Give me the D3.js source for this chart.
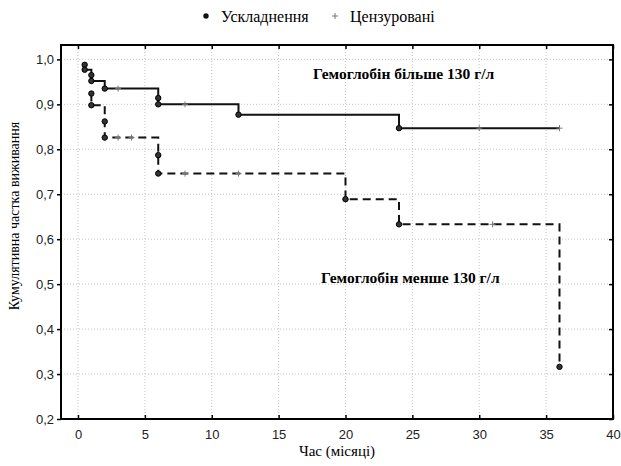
<!DOCTYPE html>
<html>
<head>
<meta charset="utf-8">
<script src="https://cdn.jsdelivr.net/npm/d3@7"></script>
<style>
  body { margin: 0; background: #fff; }
  svg { display: block; }
</style>
</head>
<body>
<div id="chart"></div>
<script>
// Hb > 130 g/l (solid)
var hiTime = [0.5, 0.5, 1, 1, 2, 6, 6, 12, 24];
var hiSurv = [0.988, 0.977, 0.965, 0.952, 0.935, 0.914, 0.900, 0.877, 0.847];
var hiCensored = [3, 8, 30, 36];
// Hb < 130 g/l (dashed)
var loTime = [1, 1, 2, 2, 6, 6, 20, 24, 36];
var loSurv = [0.924, 0.898, 0.862, 0.826, 0.787, 0.746, 0.689, 0.633, 0.316];
var loCensored = [3, 4, 8, 12, 20, 31];

var xTicks = [0, 5, 10, 15, 20, 25, 30, 35, 40];
var yTicks = [0.2, 0.3, 0.4, 0.5, 0.6, 0.7, 0.8, 0.9, 1.0];

var width = 621, height = 466;
var margin = {top: 45, right: 8, bottom: 47, left: 61};

var svg = d3.select("#chart").append("svg")
    .attr("width", width)
    .attr("height", height);

var x = d3.scaleLinear().domain([-1.27, 40]).range([margin.left, width - margin.right]);
var y = d3.scaleLinear().domain([0.2, 1.032]).range([height - margin.bottom, margin.top]);
var fmt = function(d) { return d3.format(".1f")(d).replace(".", ","); };

// grid
var grid = svg.append("g").attr("stroke", "#c4c4c4").attr("stroke-width", 1).attr("stroke-dasharray", "1,2");
grid.selectAll(".gx").data(xTicks.slice(0, -1)).enter().append("line")
    .attr("x1", d => x(d)).attr("x2", d => x(d))
    .attr("y1", y.range()[0]).attr("y2", y.range()[1]);
grid.selectAll(".gy").data(yTicks.slice(1)).enter().append("line")
    .attr("y1", d => y(d)).attr("y2", d => y(d))
    .attr("x1", x.range()[0]).attr("x2", x.range()[1]);

// axes
var xAxis = svg.append("g")
    .attr("transform", "translate(0," + y.range()[0] + ")")
    .call(d3.axisBottom(x).tickValues(xTicks).tickSize(-4).tickPadding(11).tickFormat(d3.format("d")));
var yAxis = svg.append("g")
    .attr("transform", "translate(" + x.range()[0] + ",0)")
    .call(d3.axisLeft(y).tickValues(yTicks).tickSize(4).tickPadding(3).tickFormat(fmt));
svg.append("g")
    .attr("transform", "translate(0," + y.range()[1] + ")")
    .call(d3.axisTop(x).tickValues(xTicks).tickSize(-4).tickFormat(""));
svg.append("g")
    .attr("transform", "translate(" + x.range()[1] + ",0)")
    .call(d3.axisRight(y).tickValues(yTicks).tickSize(-4).tickFormat(""));
svg.selectAll(".domain").remove();
svg.selectAll(".tick line").attr("stroke", "#000").attr("stroke-width", 1.5);
svg.selectAll(".tick text")
    .attr("font-family", "'Liberation Sans', Arial, sans-serif")
    .attr("font-size", 13)
    .attr("fill", "#222");

// frame
svg.append("rect")
    .attr("x", x.range()[0]).attr("y", y.range()[1])
    .attr("width", x.range()[1] - x.range()[0])
    .attr("height", y.range()[0] - y.range()[1])
    .attr("fill", "none").attr("stroke", "#000").attr("stroke-width", 2);

// curves
var line = d3.line().x(d => x(d[0])).y(d => y(d[1])).curve(d3.curveStepAfter);

function drawSeries(times, surv, censored, dash) {
    var pts = times.map((t, i) => [t, surv[i]]);
    var lastT = d3.max(censored.concat(times));
    if (lastT > times[times.length - 1]) pts.push([lastT, surv[surv.length - 1]]);
    var g = svg.append("g");
    g.append("path")
        .attr("d", line(pts))
        .attr("fill", "none")
        .attr("stroke", "#111")
        .attr("stroke-width", 2)
        .attr("stroke-dasharray", dash);
    // survival at a censored time
    var survAt = function(t) {
        var s = null;
        times.forEach((tt, i) => { if (tt <= t) s = surv[i]; });
        return s;
    };
    g.selectAll(".cens").data(censored).enter().append("path")
        .attr("d", function(t) {
            var cx = x(t), cy = y(survAt(t));
            return "M" + (cx - 3) + "," + cy + "H" + (cx + 3) + "M" + cx + "," + (cy - 3) + "V" + (cy + 3);
        })
        .attr("stroke", "#777").attr("stroke-width", 1);
    g.selectAll(".ev").data(pts.slice(0, times.length)).enter().append("circle")
        .attr("cx", d => x(d[0])).attr("cy", d => y(d[1]))
        .attr("r", 2.7)
        .attr("fill", "#333").attr("stroke", "#000").attr("stroke-width", 1);
}
drawSeries(hiTime, hiSurv, hiCensored, null);
drawSeries(loTime, loSurv, loCensored, "8,5");

// annotations
var serif = "'Liberation Serif', 'Times New Roman', serif";
svg.append("text").attr("x", 313).attr("y", 79)
    .attr("font-family", serif).attr("font-size", 15.5).attr("font-weight", "bold")
    .text("Гемоглобін більше 130 г/л");
svg.append("text").attr("x", 321).attr("y", 283)
    .attr("font-family", serif).attr("font-size", 15.5).attr("font-weight", "bold")
    .text("Гемоглобін менше 130 г/л");

// axis titles
svg.append("text").attr("x", 337).attr("y", 456)
    .attr("text-anchor", "middle").attr("font-family", serif).attr("font-size", 15)
    .text("Час (місяці)");
svg.append("text")
    .attr("transform", "translate(19,216) rotate(-90)")
    .attr("text-anchor", "middle").attr("font-family", serif).attr("font-size", 14)
    .text("Кумулятивна частка виживання");

// legend
var legend = svg.append("g").attr("font-family", serif).attr("font-size", 16);
legend.append("circle").attr("cx", 206).attr("cy", 16).attr("r", 2.7).attr("fill", "#111");
legend.append("text").attr("x", 221).attr("y", 22).text("Ускладнення");
legend.append("path").attr("d", "M332,16H338M335,13V19").attr("stroke", "#777").attr("stroke-width", 1);
legend.append("text").attr("x", 350).attr("y", 22).text("Цензуровані");
</script>
</body>
</html>
